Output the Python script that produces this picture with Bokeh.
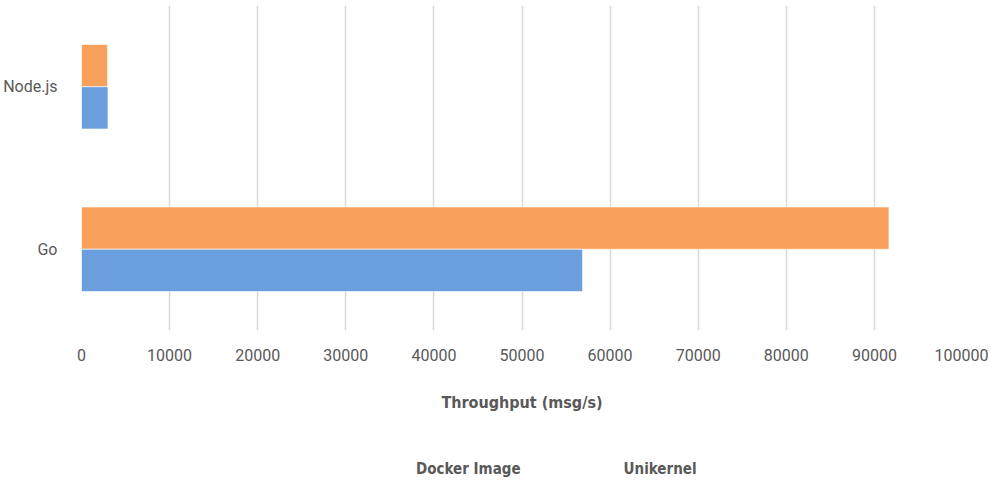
from bokeh.plotting import figure
from bokeh.layouts import column
from bokeh.models import (ColumnDataSource, Range1d, FactorRange, FixedTicker, NumeralTickFormatter,
                          Legend, LegendItem, CDSView, IndexFilter)
from bokeh.transform import dodge
from bokeh.embed import file_html
from bokeh.resources import INLINE

categories = ["Go", "Node.js"]
docker = [91650, 2950]
unikernel = [56870, 3000]
x_ticks = [0, 10000, 20000, 30000, 40000, 50000, 60000, 70000, 80000, 90000, 100000]

ORANGE = "#F9A05B"
BLUE = "#6A9EDD"
TXT = "#595959"
COND = "DejaVu Sans Condensed"

src = ColumnDataSource(dict(cat=categories, docker=docker, unikernel=unikernel))

p = figure(frame_width=881, frame_height=325, output_backend="svg", toolbar_location=None,
           y_range=FactorRange(*categories, range_padding=0), x_range=Range1d(0, 100000),
           min_border_top=5, min_border_right=26, min_border_bottom=0, min_border_left=81)

p.hbar(y=dodge("cat", 0.13, range=p.y_range), left=0, right="docker", height=0.26,
       source=src, fill_color=ORANGE, line_color="white", line_alpha=0.6, line_width=1)
p.hbar(y=dodge("cat", -0.13, range=p.y_range), left=0, right="unikernel", height=0.26,
       source=src, fill_color=BLUE, line_color="white", line_alpha=0.6, line_width=1)

p.outline_line_color = None
p.ygrid.grid_line_color = None
p.xgrid.grid_line_color = "#D9D9D9"
p.xgrid.grid_line_width = 1.5

p.xaxis.ticker = FixedTicker(ticks=x_ticks)
p.xaxis.formatter = NumeralTickFormatter(format="0")
p.xaxis.axis_line_color = None
p.xaxis.major_tick_line_color = None
p.xaxis.minor_tick_line_color = None
p.xaxis.major_label_text_font = "Roboto"
p.xaxis.major_label_text_font_size = "16px"
p.xaxis.major_label_text_color = TXT
p.xaxis.major_label_standoff = 12
p.xaxis.axis_label = "Throughput (msg/s)"
p.xaxis.axis_label_text_font = COND
p.xaxis.axis_label_text_font_style = "bold"
p.xaxis.axis_label_text_font_size = "16px"
p.xaxis.axis_label_text_color = TXT
p.xaxis.axis_label_standoff = 29

p.yaxis.axis_line_color = None
p.yaxis.major_tick_line_color = None
p.yaxis.minor_tick_line_color = None
p.yaxis.major_label_text_font = "Roboto"
p.yaxis.major_label_text_font_size = "16px"
p.yaxis.major_label_text_color = TXT
p.yaxis.major_label_standoff = 18

# legend strip below the chart
lf = figure(width=988, height=80, output_backend="svg", toolbar_location=None,
            x_range=Range1d(500000, 600000), y_range=FactorRange(*categories),
            min_border=0, outline_line_color=None)
lf.axis.visible = False
lf.grid.visible = False
l1 = lf.hbar(y="cat", left=0, right="docker", height=0.26, source=src,
             view=CDSView(filter=IndexFilter([])), fill_color=ORANGE, line_color=None)
l2 = lf.hbar(y="cat", left=0, right="unikernel", height=0.26, source=src,
             view=CDSView(filter=IndexFilter([])), fill_color=BLUE, line_color=None)
legend = Legend(items=[LegendItem(label="Docker Image", renderers=[l1]),
                       LegendItem(label="Unikernel", renderers=[l2])],
                orientation="horizontal", location=(272, 10),
                glyph_width=50, glyph_height=31, label_standoff=13, spacing=40,
                label_text_font=COND, label_text_font_style="bold",
                label_text_font_size="15px", label_text_color=TXT,
                border_line_color=None, background_fill_alpha=0, padding=0, margin=0)
lf.add_layout(legend, "center")

open("out.html", "w").write(file_html(column(p, lf, spacing=0), INLINE))
